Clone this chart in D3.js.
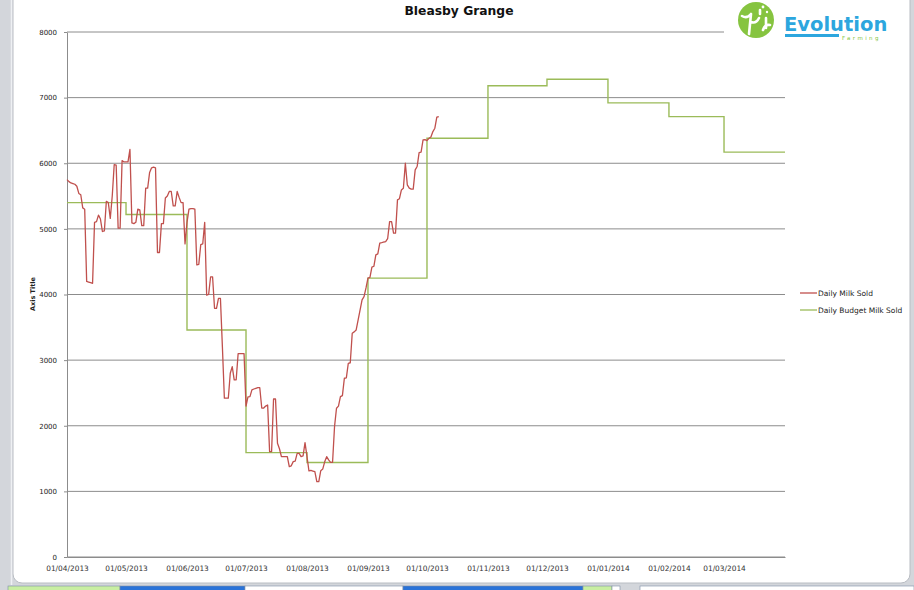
<!DOCTYPE html>
<html>
<head>
<meta charset="utf-8">
<script src="https://cdn.jsdelivr.net/npm/d3@7"></script>
<style>
body { margin:0; background:#fff; }
text { font-family:"DejaVu Sans", sans-serif; }
</style>
</head>
<body>
<svg id="chart" width="914" height="590"></svg>
<script>
// daily milk sold, one value per day from 01/04/2013
var milkStart = "2013-04-01";
var milkSold = [
	5750,5720,5700,5690,5680,5650,5540,5520,5320,5300,
	4200,4190,4180,4170,5100,5110,5210,5150,4960,4970,
	5420,5400,5160,5500,5980,5970,5010,5010,6040,6020,
	6020,6020,6210,5090,5080,5100,5300,5290,5050,5050,
	5620,5620,5860,5930,5940,5930,4640,4640,5080,5080,
	5470,5500,5570,5570,5350,5350,5570,5480,5400,5400,
	4770,5100,5300,5310,5310,5300,4450,4460,4760,4770,
	5100,3990,4000,4270,4270,3790,3790,3940,3940,3200,
	2420,2420,2420,2800,2900,2700,2700,3100,3100,3100,
	3100,2300,2440,2444,2546,2560,2570,2580,2580,2270,
	2270,2300,2317,1605,1605,2408,2408,1733,1650,1529,
	1529,1529,1530,1377,1390,1453,1460,1580,1580,1529,
	1540,1743,1530,1311,1320,1310,1300,1148,1148,1316,
	1340,1450,1529,1480,1443,1443,1986,2267,2300,2444,
	2460,2724,2730,2952,2960,3410,3430,3460,3613,3765,
	3918,3968,4100,4248,4260,4416,4430,4604,4620,4782,
	4790,4800,4807,4850,5111,5111,4934,4934,5442,5460,
	5594,5620,6001,5671,5620,5605,5605,5899,5950,6163,
	6170,6357,6360,6346,6380,6400,6483,6534,6702,6712
];

// monthly budget, held for the whole month
var budgetMonths = ["2013-04-01","2013-05-01","2013-06-01","2013-07-01","2013-08-01","2013-09-01",
	"2013-10-01","2013-11-01","2013-12-01","2014-01-01","2014-02-01","2014-03-01","2014-04-01"];
var budgetValues = [5400,5220,3460,1590,1440,4250,6380,7180,7280,6920,6710,6170,6170];

var yTicks = [0,1000,2000,3000,4000,5000,6000,7000,8000];
var xTickDates = ["2013-04-01","2013-05-01","2013-06-01","2013-07-01","2013-08-01","2013-09-01",
	"2013-10-01","2013-11-01","2013-12-01","2014-01-01","2014-02-01","2014-03-01"];

var seriesNames = ["Daily Milk Sold","Daily Budget Milk Sold"];
var seriesColors = ["#c0504d","#9bbb59"];

var parse = d3.utcParse("%Y-%m-%d");
var fmt = d3.utcFormat("%d/%m/%Y");

var plotLeft = 67, plotRight = 785, plotTop = 32, plotBottom = 557;

var svg = d3.select("#chart");

// excel window frame
svg.append("rect").attr("x",0).attr("y",0).attr("width",914).attr("height",590).attr("fill","#d3d6db");
svg.append("rect").attr("x",13).attr("y",-10).attr("width",897).attr("height",593)
	.attr("rx",9).attr("fill","#fff").attr("stroke","#b9bdc3").attr("stroke-width",1);
svg.append("line").attr("x1",11.5).attr("x2",11.5).attr("y1",0).attr("y2",585)
	.attr("stroke","#eef0f3").attr("stroke-width",1.5);

// sheet tabs along the bottom
var tabs = [[8,120,"#c8eea2"],[120,245,"#2a73d8"],[245,403,"#ffffff"],[403,583,"#2a73d8"],
	[583,612,"#c8eea2"],[612,620,"#ffffff"],[640,914,"#ffffff"]];
svg.selectAll(".tab").data(tabs).enter().append("rect")
	.attr("x",function(d){ return d[0]; })
	.attr("y",586)
	.attr("width",function(d){ return d[1]-d[0]; })
	.attr("height",6)
	.attr("fill",function(d){ return d[2]; })
	.attr("stroke","#7d8ea6").attr("stroke-width",0.6);

var x = d3.scaleUtc()
	.domain([parse("2013-04-01"), parse("2014-04-01")])
	.range([plotLeft,plotRight]);

var y = d3.scaleLinear()
	.domain([0,8000])
	.range([plotBottom,plotTop]);

// gridlines
svg.append("g")
	.selectAll("line")
	.data(yTicks)
	.enter().append("line")
	.attr("x1",plotLeft).attr("x2",plotRight)
	.attr("y1",function(d){ return y(d); })
	.attr("y2",function(d){ return y(d); })
	.attr("stroke","#8c8c8c")
	.attr("stroke-width",1);

// y axis
var yAxis = svg.append("g")
	.attr("transform","translate(" + plotLeft + ",0)")
	.call(d3.axisLeft(y).tickValues(yTicks).tickFormat(d3.format("d")).tickSize(3).tickSizeOuter(0).tickPadding(7));
yAxis.select(".domain").attr("stroke","#8c8c8c");
yAxis.selectAll(".tick line").attr("stroke","#8c8c8c");
yAxis.selectAll("text").style("font-size","7px").attr("fill","#222").attr("font-family","DejaVu Sans");

// x axis
var xAxis = svg.append("g")
	.attr("transform","translate(0," + plotBottom + ")")
	.call(d3.axisBottom(x).tickValues(xTickDates.map(parse)).tickFormat(fmt).tickSize(0).tickPadding(9));
xAxis.select(".domain").attr("stroke","#8c8c8c");
xAxis.selectAll("text").style("font-size","7.4px").attr("fill","#333").attr("font-family","DejaVu Sans");

// budget step line
var budget = budgetMonths.map(function(m,i){ return {date:parse(m), value:budgetValues[i]}; });
svg.append("path")
	.datum(budget)
	.attr("fill","none")
	.attr("stroke",seriesColors[1])
	.attr("stroke-width",1.4)
	.attr("d", d3.line()
		.curve(d3.curveStepAfter)
		.x(function(d){ return x(d.date); })
		.y(function(d){ return y(d.value); }));

// daily milk line
var start = parse(milkStart);
var milk = milkSold.map(function(v,i){ return {date:d3.utcDay.offset(start,i), value:v}; });
svg.append("path")
	.datum(milk)
	.attr("fill","none")
	.attr("stroke",seriesColors[0])
	.attr("stroke-width",1.3)
	.attr("stroke-linejoin","round")
	.attr("d", d3.line()
		.x(function(d){ return x(d.date); })
		.y(function(d){ return y(d.value); }));

// title
svg.append("text")
	.attr("x",459).attr("y",15)
	.attr("text-anchor","middle")
	.style("font-size","12.3px")
	.style("font-weight","bold")
	.attr("font-family","Liberation Sans")
	.attr("fill","#111")
	.text("Bleasby Grange");

// axis title
svg.append("text")
	.attr("transform","translate(35,294) rotate(-90)")
	.attr("text-anchor","middle")
	.style("font-size","6.5px")
	.style("font-weight","bold")
	.attr("fill","#222")
	.text("Axis Title");

// legend
var legend = svg.append("g").attr("transform","translate(800,293)");
legend.selectAll("g")
	.data(seriesNames)
	.enter().append("g")
	.attr("transform",function(d,i){ return "translate(0," + (i*17) + ")"; })
	.each(function(d,i){
		var g = d3.select(this);
		g.append("line").attr("x1",0).attr("x2",17).attr("y1",0).attr("y2",0)
			.attr("stroke",seriesColors[i]).attr("stroke-width",1.3);
		g.append("text").attr("x",18).attr("y",2.5)
			.style("font-size","7.5px").attr("fill","#222").text(d);
	});

// logo
var logo = svg.append("g");
logo.append("rect").attr("x",724).attr("y",0).attr("width",180).attr("height",44).attr("fill","#fff");
logo.append("circle").attr("cx",756).attr("cy",20).attr("r",18).attr("fill","#86c440");
logo.append("path")
	.attr("d","M742,16 Q747,19 751,14 M751,14 L749,34 M751,22 Q756,24 759,18 M760,10 L760,14 M763,30 Q765,24 770,25 M766,18 L766,28")
	.attr("stroke","#fff").attr("stroke-width",2.6).attr("fill","none").attr("stroke-linecap","round");
logo.append("circle").attr("cx",763).attr("cy",7).attr("r",1.4).attr("fill","#fff");
logo.append("circle").attr("cx",767).attr("cy",12).attr("r",1.2).attr("fill","#fff");
logo.append("text").attr("x",784).attr("y",31)
	.style("font-size","19.5px").style("font-weight","bold").attr("fill","#2ca6de")
	.attr("font-family","Open Sans").text("Evolution");
logo.append("rect").attr("x",785).attr("y",34).attr("width",54).attr("height",3).attr("fill","#2ca6de");
logo.append("text").attr("x",842).attr("y",39.5)
	.style("font-size","5.5px").style("letter-spacing","2.4px").attr("fill","#86c440").text("Farming");
</script>
</body>
</html>
